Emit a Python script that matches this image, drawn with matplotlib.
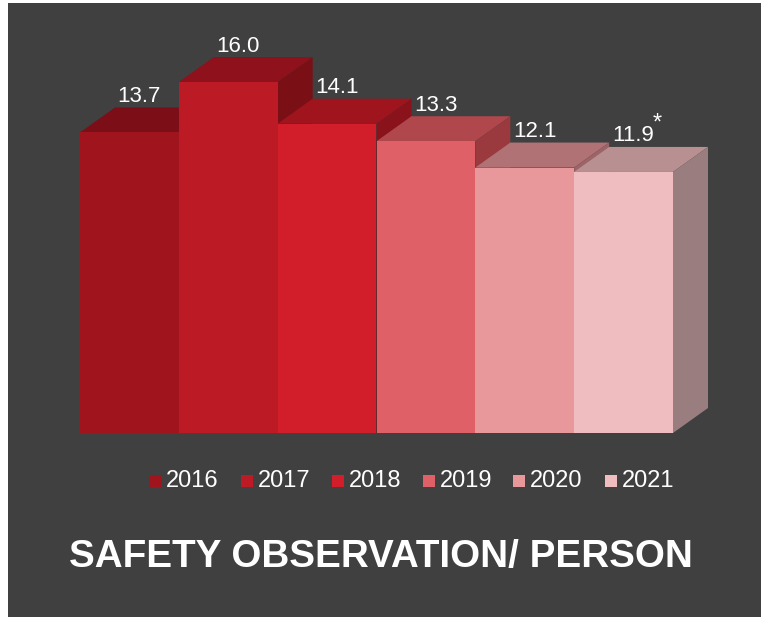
import numpy as np
import matplotlib.pyplot as plt
from matplotlib.patches import Polygon, Rectangle

years = ["2016", "2017", "2018", "2019", "2020", "2021"]
values = [13.7, 16.0, 14.1, 13.3, 12.1, 11.9]
labels = ["13.7", "16.0", "14.1", "13.3", "12.1", "11.9"]
title = "SAFETY OBSERVATION/ PERSON"

front_cols = ["#a0141e", "#bc1a25", "#d21e2b", "#e06068", "#e8979b", "#efbdc0"]
top_cols = ["#7c0e17", "#8f111b", "#a0141e", "#b0474c", "#b07275", "#b89092"]
side_cols = ["#6e0c14", "#7a0f16", "#8a121b", "#9a3a3f", "#9c6466", "#9a7d7e"]

bg = "#404040"
W, H = 761, 617

fig = plt.figure(figsize=(W / 100, H / 100), dpi=100)
fig.patch.set_facecolor("white")
fig.add_artist(Rectangle((8 / W, 0), 1, 1 - 3 / H, transform=fig.transFigure,
                         facecolor=bg, edgecolor="none", zorder=-5))

# axes placed so that bar fronts land where they are in the picture
x0, x1 = 80, 673
y0, y1 = 433, 82
ax = fig.add_axes([x0 / W, (H - y0) / H, (x1 - x0) / W, (y0 - y1) / H])
ax.set_zorder(2)
ax.set_xlim(-0.5, len(years) - 0.5)
ax.set_ylim(0, max(values))
ax.axis("off")
ax.patch.set_alpha(0)

# depth of the boxes in data units (about 35 px right, 25 px up)
px_x = (x1 - x0) / len(years)
px_y = (y0 - y1) / max(values)
dx = 35 / px_x
dy = 25 / px_y
w = 1.0

for i, v in enumerate(values):
    l, r = i - w / 2, i + w / 2
    top = Polygon([(l, v), (r, v), (r + dx, v + dy), (l + dx, v + dy)],
                  closed=True, facecolor=top_cols[i], edgecolor="none", clip_on=False, zorder=2)
    side = Polygon([(r, 0), (r + dx, dy), (r + dx, v + dy), (r, v)],
                   closed=True, facecolor=side_cols[i], edgecolor="none", clip_on=False, zorder=2)
    ax.add_patch(top)
    ax.add_patch(side)
for i, v in enumerate(values):
    ax.bar(i, v, width=w, color=front_cols[i], zorder=3, clip_on=False)
    ax.text(i + 0.1, v + dy + 0.5, labels[i], color="white", fontsize=16,
            family="Liberation Sans", ha="center", va="center", zorder=4)

ax.text(len(years) - 1 + 0.34, values[-1] + dy + 1.05, "*", color="white",
        fontsize=17, family="Liberation Sans", ha="center", va="center", zorder=4)

# legend row
leg_x = [149, 241, 332, 423, 513, 605]
for i, yr in enumerate(years):
    fig.add_artist(Rectangle((leg_x[i] / W, (H - 487) / H), 12 / W, 12 / H,
                             transform=fig.transFigure, facecolor=front_cols[i],
                             edgecolor="none", zorder=3))
    fig.text((leg_x[i] + 17) / W, (H - 481) / H, yr, color="white", fontsize=17,
             family="Liberation Sans", ha="left", va="center")

fig.text(381 / W, (H - 557) / H, title, color="white", fontsize=27.8, fontweight="bold",
         family="Liberation Sans", ha="center", va="center")

fig.savefig("out.png", dpi=100, facecolor=fig.get_facecolor())
